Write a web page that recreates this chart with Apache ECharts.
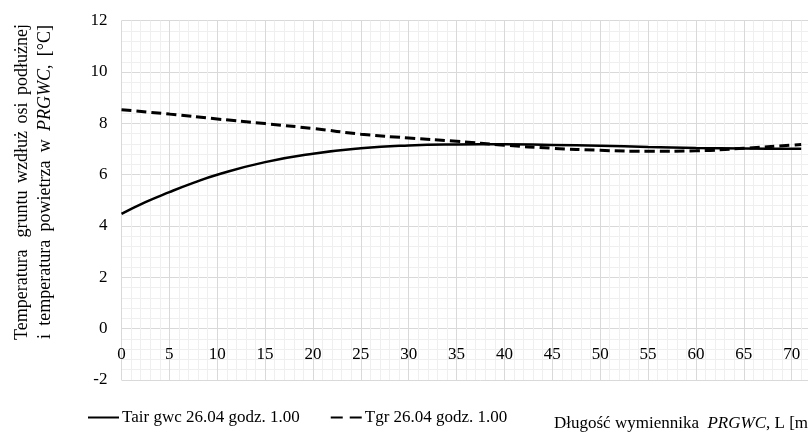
<!DOCTYPE html>
<html>
<head>
<meta charset="utf-8">
<script src="https://cdn.jsdelivr.net/npm/echarts@6/dist/echarts.min.js"></script>
<style>
  html, body { margin: 0; padding: 0; background: #fff; width: 808px; height: 432px; overflow: hidden; }
  /* wykres jest szerszy niz okno - prawa strona przycieta jak w oryginale */
  #chart { width: 860px; height: 432px; }
</style>
</head>
<body>
<div id="chart"></div>
<script>
// dlugosc wymiennika [m]
const lengthAir = [0, 2.5, 5, 7.5, 10, 15, 20, 25, 30, 35, 40, 45, 50, 55, 60, 65, 70, 71];
const tAir = [4.47, 4.93, 5.32, 5.68, 6.0, 6.49, 6.82, 7.03, 7.14, 7.18, 7.19, 7.16, 7.13, 7.08, 7.04, 7.02, 7.01, 7.01];

const lengthGr = [0, 5, 10, 15, 20, 25, 30, 35, 40, 45, 50, 55, 60, 65, 70, 71];
const tGr = [8.53, 8.36, 8.17, 7.99, 7.8, 7.58, 7.43, 7.3, 7.15, 7.03, 6.95, 6.91, 6.93, 7.03, 7.15, 7.18];

const seriesNames = ['Tair gwc 26.04 godz. 1.00', 'Tgr 26.04 godz. 1.00'];

const font = 'Liberation Serif';

const chart = echarts.init(document.getElementById('chart'));

chart.setOption({
  backgroundColor: '#fff',
  animation: false,
  textStyle: { fontFamily: font, color: '#000' },
  grid: { left: 121.5, top: 20.7, width: 718, height: 359.3, containLabel: false },
  xAxis: {
    type: 'value',
    min: 0,
    max: 75,
    interval: 5,
    axisLine: { show: false },
    axisTick: { show: false },
    // etykiety osi X leza nad dolna krawedzia (przy 0 na osi Y)
    axisLabel: { inside: true, fontSize: 17, fontFamily: font, color: '#000', margin: 17 },
    splitLine: { show: true, lineStyle: { color: '#d9d9d9', width: 1 } },
    minorTick: { show: false, splitNumber: 5 },
    minorSplitLine: { show: true, lineStyle: { color: '#efefef', width: 1 } }
  },
  yAxis: {
    type: 'value',
    min: -2,
    max: 12,
    interval: 2,
    axisLine: { show: false },
    axisTick: { show: false },
    axisLabel: { fontSize: 17, fontFamily: font, color: '#000', margin: 14 },
    splitLine: { show: true, lineStyle: { color: '#d9d9d9', width: 1 } },
    minorTick: { show: false, splitNumber: 5 },
    minorSplitLine: { show: true, lineStyle: { color: '#efefef', width: 1 } }
  },
  legend: {
    left: 87,
    top: 409,
    padding: 0,
    itemWidth: 31,
    itemHeight: 14,
    itemGap: 30,
    itemStyle: { opacity: 0 },
    textStyle: { fontSize: 17, fontFamily: font, color: '#000', padding: [0, 0, 0, -2] },
    data: [
      { name: seriesNames[0] },
      { name: seriesNames[1], lineStyle: { type: [12, 7] } }
    ]
  },
  series: [
    {
      name: seriesNames[0],
      type: 'line',
      smooth: true,
      symbol: 'none',
      lineStyle: { color: '#000', width: 2.5, type: 'solid' },
      itemStyle: { color: '#000' },
      data: lengthAir.map((x, i) => [x, tAir[i]])
    },
    {
      name: seriesNames[1],
      type: 'line',
      smooth: true,
      symbol: 'none',
      lineStyle: { color: '#000', width: 3, type: [10, 5] },
      itemStyle: { color: '#000' },
      data: lengthGr.map((x, i) => [x, tGr[i]])
    }
  ],
  graphic: [
    {
      type: 'text',
      left: 554,
      top: 415,
      style: {
        text: '{n|Długość wymiennika  }{i|PRGWC}{n|, L [m]}',
        rich: {
          n: { fontFamily: font, fontSize: 17, fill: '#000' },
          i: { fontFamily: font, fontSize: 17, fontStyle: 'italic', fill: '#000' }
        }
      }
    },
    {
      type: 'text',
      x: 22,
      y: 182,
      rotation: Math.PI / 2,
      style: {
        text: '{n|Temperatura}{gg| }{n|gruntu}{g| }{n|wzdłuż}{g| }{n|osi}{g| }{n|podłużnej}',
        align: 'center',
        verticalAlign: 'middle',
        rich: {
          n: { fontFamily: font, fontSize: 18, fill: '#000' },
          g: { fontFamily: font, fontSize: 18, width: 7.5 },
          gg: { fontFamily: font, fontSize: 18, width: 12 }
        }
      }
    },
    {
      type: 'text',
      x: 45,
      y: 182,
      rotation: Math.PI / 2,
      style: {
        text: '{n|i}{g| }{n|temperatura}{g| }{n|powietrza}{g| }{n|w}{g| }{i|PRGWC}{n|,}{g| }{n|[°C]}',
        align: 'center',
        verticalAlign: 'middle',
        rich: {
          n: { fontFamily: font, fontSize: 18, fill: '#000' },
          i: { fontFamily: font, fontSize: 18, fontStyle: 'italic', fill: '#000' },
          g: { fontFamily: font, fontSize: 18, width: 8.3 }
        }
      }
    }
  ]
});
</script>
</body>
</html>
